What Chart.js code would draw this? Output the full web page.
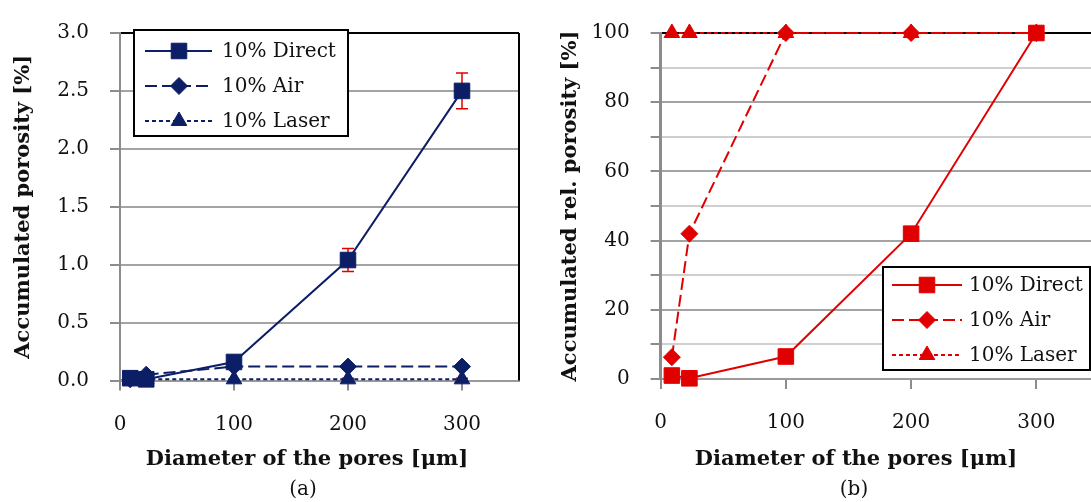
<!DOCTYPE html>
<html lang="en">
<head>
  <meta charset="UTF-8">
  <title>Accumulated porosity vs pore diameter</title>
  <script src="https://cdn.jsdelivr.net/npm/chart.js"></script>
  <style>
    body, html {
      margin: 0;
      padding: 0;
      width: 1091px;
      height: 502px;
      overflow: hidden;
      background: #fff;
      font-family: 'DejaVu Serif', serif;
      color: #111;
    }
    .panel {
      position: absolute;
      top: 0;
      height: 502px;
    }
    #panelA { left: 0; width: 545px; }
    #panelB { left: 545px; width: 570px; }
    .xtitle {
      position: absolute;
      top: 446px;
      font-size: 21px;
      line-height: 24px;
      font-weight: bold;
      white-space: nowrap;
      transform: translateX(-50%);
    }
    .caption {
      position: absolute;
      top: 476px;
      font-size: 20px;
      line-height: 24px;
      transform: translateX(-50%);
    }
  </style>
</head>
<body>

  <div class="panel" id="panelA"><canvas id="chartA"></canvas></div>
  <div class="panel" id="panelB"><canvas id="chartB"></canvas></div>

  <div class="xtitle" style="left:307px">Diameter of the pores [μm]</div>
  <div class="caption" style="left:303px">(a)</div>
  <div class="xtitle" style="left:856px">Diameter of the pores [μm]</div>
  <div class="caption" style="left:854px">(b)</div>

  <script>
    // pore diameter classes (x) and the three series
    const poreDiameters = [9, 23, 100, 200, 300];
    const seriesLabels = ['10% Direct', '10% Air', '10% Laser'];

    // (a) accumulated porosity [%]
    const directAbs = [0.02, 0.01, 0.16, 1.04, 2.50];
    const airAbs = [0.01, 0.05, 0.12, 0.12, 0.12];
    const laserAbs = [0.01, 0.01, 0.01, 0.01, 0.01];
    const directAbsErr = [0, 0, 0, 0.10, 0.155];
    const airAbsErr = [0, 0, 0, 0.02, 0.02];
    const laserAbsErr = [0, 0, 0, 0.01, 0.01];

    // (b) accumulated relative porosity [%]
    const directRel = [1.0, 0.2, 6.5, 42, 100];
    const airRel = [6.3, 42, 100, 100, 100];
    const laserRel = [100, 100, 100, 100, 100];

    // ticks
    const xTicks = [0, 100, 200, 300];
    const absTicks = [0, 0.5, 1.0, 1.5, 2.0, 2.5, 3.0];
    const relTicks = [0, 10, 20, 30, 40, 50, 60, 70, 80, 90, 100];

    const NAVY = '#0c1f66';
    const RED = '#e10000';
    const FONT = "'DejaVu Serif', serif";

    Chart.defaults.font.family = FONT;
    Chart.defaults.color = '#111';
    Chart.defaults.animation = false;

    const lineStyles = [
      { dash: [], point: 'rect', radius: 11 },
      { dash: [12, 5], point: 'rectRot', radius: 8.5 },
      { dash: [4, 3], point: 'triangle', radius: 9 }
    ];

    function makeSeries(label, ys, errs, color, style) {
      return {
        label: label,
        data: poreDiameters.map((x, i) => ({ x: x, y: ys[i] })),
        errors: errs,
        borderColor: color,
        backgroundColor: color,
        borderWidth: 2,
        borderDash: style.dash,
        pointStyle: style.point,
        pointRadius: style.radius,
        pointBorderWidth: 1,
        pointBackgroundColor: color,
        pointBorderColor: color,
        tension: 0,
        clip: false
      };
    }

    // red error bars drawn behind the lines
    const errorBars = {
      id: 'errorBars',
      beforeDatasetsDraw(chart) {
        const { ctx, scales: { x, y } } = chart;
        ctx.save();
        ctx.strokeStyle = RED;
        ctx.lineWidth = 1.5;
        chart.data.datasets.forEach(ds => {
          if (!ds.errors) return;
          ds.data.forEach((p, i) => {
            const e = ds.errors[i];
            if (!e) return;
            const px = x.getPixelForValue(p.x);
            const top = y.getPixelForValue(p.y + e);
            const bot = y.getPixelForValue(p.y - e);
            ctx.beginPath();
            ctx.moveTo(px, top); ctx.lineTo(px, bot);
            ctx.moveTo(px - 6, top); ctx.lineTo(px + 6, top);
            ctx.moveTo(px - 6, bot); ctx.lineTo(px + 6, bot);
            ctx.stroke();
          });
        });
        ctx.restore();
      }
    };

    // black right border of the plot area
    const plotFrame = {
      id: 'plotFrame',
      beforeDatasetsDraw(chart) {
        const { ctx, chartArea: a } = chart;
        ctx.save();
        ctx.strokeStyle = '#000';
        ctx.lineWidth = 2;
        ctx.beginPath();
        ctx.moveTo(a.right, a.top);
        ctx.lineTo(a.right, a.bottom);
        ctx.stroke();
        ctx.restore();
      }
    };

    // framed legend with line + marker samples
    const boxLegend = {
      id: 'boxLegend',
      afterDatasetsDraw(chart, args, o) {
        const ctx = chart.ctx;
        ctx.save();
        ctx.fillStyle = '#fff';
        ctx.fillRect(o.x, o.y, o.w, o.h);
        ctx.strokeStyle = '#000';
        ctx.lineWidth = 2;
        ctx.strokeRect(o.x, o.y, o.w, o.h);
        chart.data.datasets.forEach((ds, i) => {
          const yy = o.y + o.rowTop + i * o.rowGap;
          ctx.strokeStyle = ds.borderColor;
          ctx.lineWidth = ds.borderWidth;
          ctx.setLineDash(ds.borderDash);
          ctx.beginPath();
          ctx.moveTo(o.x + o.line0, yy);
          ctx.lineTo(o.x + o.line1, yy);
          ctx.stroke();
          ctx.setLineDash([]);
          ctx.fillStyle = ds.pointBackgroundColor;
          ctx.lineWidth = 1;
          Chart.helpers.drawPoint(ctx, { pointStyle: ds.pointStyle, radius: ds.pointRadius, borderWidth: 1 },
            o.x + o.mark, yy);
          ctx.fillStyle = '#111';
          ctx.font = '20px ' + FONT;
          ctx.textBaseline = 'middle';
          ctx.textAlign = 'left';
          ctx.fillText(ds.label, o.x + o.text, yy + 1);
        });
        ctx.restore();
      }
    };

    function xScale(height) {
      return {
        type: 'linear',
        min: 0,
        max: 350,
        afterBuildTicks: s => { s.ticks = xTicks.map(v => ({ value: v })); },
        afterFit: s => { s.height = height; },
        grid: { drawOnChartArea: false, drawTicks: true, tickLength: 10, tickColor: '#8c8c8c', lineWidth: 2 },
        border: { color: '#9a9a9a', width: 2 },
        ticks: { padding: 22, color: '#111', font: { size: 20 } }
      };
    }

    new Chart(document.getElementById('chartA'), {
      type: 'line',
      data: {
        datasets: [
          makeSeries(seriesLabels[0], directAbs, directAbsErr, NAVY, lineStyles[0]),
          makeSeries(seriesLabels[1], airAbs, airAbsErr, NAVY, lineStyles[1]),
          makeSeries(seriesLabels[2], laserAbs, laserAbsErr, NAVY, lineStyles[2])
        ]
      },
      options: {
        responsive: true,
        maintainAspectRatio: false,
        layout: { padding: { top: 23, right: 26, left: 0, bottom: 0 } },
        scales: {
          x: xScale(121.5),
          y: {
            min: 0,
            max: 3,
            afterBuildTicks: s => { s.ticks = absTicks.map(v => ({ value: v })); },
            afterFit: s => { s.width = 120; },
            grid: {
              color: c => (c.tick && c.tick.value === 3 ? '#000' : '#a3a3a3'),
              lineWidth: 2,
              tickLength: 10,
              tickColor: '#8c8c8c'
            },
            border: { color: '#8c8c8c', width: 2 },
            ticks: { padding: 21, color: '#111', font: { size: 20 }, callback: v => v.toFixed(1) },
            title: {
              display: true,
              text: 'Accumulated porosity [%]',
              color: '#111',
              font: { size: 21, weight: 'bold' },
              padding: { top: 11, bottom: 0 }
            }
          }
        },
        plugins: {
          legend: { display: false },
          tooltip: { enabled: false },
          boxLegend: { x: 134, y: 30, w: 214, h: 106, rowTop: 21, rowGap: 35, line0: 11, line1: 78, mark: 45, text: 88 }
        }
      },
      plugins: [plotFrame, errorBars, boxLegend]
    });

    new Chart(document.getElementById('chartB'), {
      type: 'line',
      data: {
        datasets: [
          makeSeries(seriesLabels[0], directRel, null, RED, lineStyles[0]),
          makeSeries(seriesLabels[1], airRel, null, RED, lineStyles[1]),
          makeSeries(seriesLabels[2], laserRel, null, RED, lineStyles[2])
        ]
      },
      options: {
        responsive: true,
        maintainAspectRatio: false,
        layout: { padding: { top: 23, right: 16, left: 0, bottom: 0 } },
        scales: {
          x: xScale(123),
          y: {
            min: 0,
            max: 100,
            afterBuildTicks: s => { s.ticks = relTicks.map(v => ({ value: v })); },
            afterFit: s => { s.width = 115.6; },
            grid: {
              color: c => {
                if (!c.tick) return '#a3a3a3';
                if (c.tick.value === 100) return '#000';
                return c.tick.value % 20 === 0 ? '#a3a3a3' : '#cfcfcf';
              },
              lineWidth: 2,
              tickLength: 10,
              tickColor: '#8c8c8c'
            },
            border: { color: '#8c8c8c', width: 3 },
            ticks: { padding: 21, color: '#111', font: { size: 20 }, callback: v => (v % 20 === 0 ? v : '') },
            title: {
              display: true,
              text: 'Accumulated rel. porosity [%]',
              color: '#111',
              font: { size: 21, weight: 'bold' },
              padding: { top: 13, bottom: 0 }
            }
          }
        },
        plugins: {
          legend: { display: false },
          tooltip: { enabled: false },
          boxLegend: { x: 338, y: 267, w: 207, h: 103, rowTop: 18, rowGap: 35, line0: 9, line1: 79, mark: 44, text: 86 }
        }
      },
      plugins: [plotFrame, errorBars, boxLegend]
    });
  </script>

</body>
</html>
